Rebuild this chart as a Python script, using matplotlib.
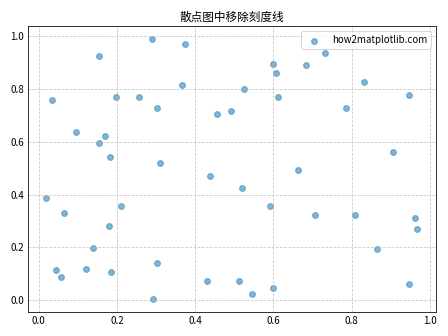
import matplotlib
matplotlib.use("Agg")
import matplotlib.pyplot as plt

plt.rcParams['font.family'] = ['Noto Sans CJK SC', 'DejaVu Sans']

x = [0.035, 0.154, 0.290, 0.374, 0.366, 0.198, 0.257, 0.303, 0.096, 0.170,
     0.154, 0.183, 0.310, 0.438, 0.456, 0.491,
     0.524, 0.598, 0.607, 0.611, 0.683, 0.731, 0.785, 0.831, 0.948, 0.906, 0.662,
     0.019, 0.065, 0.211, 0.180, 0.139, 0.045, 0.058, 0.121, 0.185, 0.303, 0.292, 0.430,
     0.519, 0.591, 0.706, 0.808, 0.963, 0.968, 0.864, 0.512, 0.545, 0.598, 0.948]
y = [0.760, 0.924, 0.989, 0.970, 0.817, 0.772, 0.772, 0.730, 0.639, 0.624,
     0.597, 0.544, 0.521, 0.471, 0.707, 0.716,
     0.802, 0.897, 0.863, 0.772, 0.890, 0.939, 0.730, 0.829, 0.776, 0.563, 0.494,
     0.388, 0.331, 0.357, 0.281, 0.198, 0.114, 0.087, 0.118, 0.106, 0.141, 0.004, 0.072,
     0.426, 0.357, 0.323, 0.323, 0.312, 0.270, 0.194, 0.072, 0.023, 0.046, 0.061]

fig, ax = plt.subplots(figsize=(6.4, 4.8), dpi=70)
ax.scatter(x, y, alpha=0.55, label='how2matplotlib.com')
ax.set_title('散点图中移除刻度线')
ax.tick_params(axis='both', length=0)
ax.grid(True, linestyle='--', alpha=0.7)
ax.legend()
fig.tight_layout()
fig.savefig('out.png')
